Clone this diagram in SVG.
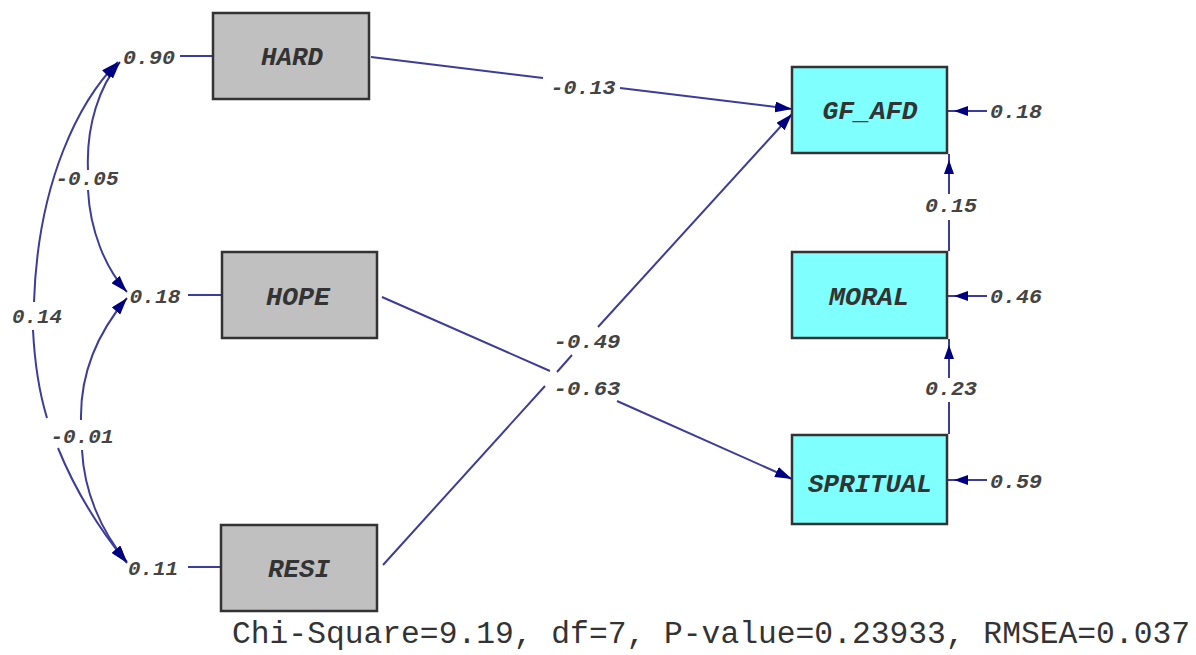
<svg xmlns="http://www.w3.org/2000/svg" width="1196" height="655" viewBox="0 0 1196 655">
<style>
.ln{fill:none;stroke:#3c3c9c;stroke-width:2}
.bx{fill:#c0c0c0;stroke:#333;stroke-width:2.5}
.cy{fill:#80ffff;stroke:#333;stroke-width:2.5}
.nl{font-family:"Liberation Mono",monospace;font-style:italic;font-weight:bold;font-size:26px;fill:#333;text-anchor:middle}
.cl{font-family:"Liberation Mono",monospace;font-style:italic;font-weight:bold;font-size:21px;fill:#444;text-anchor:middle}
.ft{font-family:"Liberation Mono",monospace;font-size:31px;fill:#333}
</style>
<defs>
<marker id="ah" viewBox="0 0 17 11" refX="17" refY="5.5" markerWidth="17" markerHeight="11" markerUnits="userSpaceOnUse" orient="auto-start-reverse"><path d="M0,0 L17,5.5 L0,11 z" fill="#000080"/></marker>
<marker id="rh" viewBox="0 0 14 10" refX="20" refY="5" markerWidth="14" markerHeight="10" markerUnits="userSpaceOnUse" orient="auto"><path d="M0,0 L14,5 L0,10 z" fill="#000080"/></marker>
</defs>
<rect width="1196" height="655" fill="#fff"/>
<g id="connectors">
<path class="ln" d="M120,62 C100,85 86,125 88,170 M88,190 C90,230 105,268 127,292" marker-start="url(#ah)" marker-end="url(#ah)"/>
<path class="ln" d="M118,62 C80,100 38,180 34,302 M33,330 C35,370 40,395 47,418 M58,448 C75,490 100,530 127,563" marker-start="url(#ah)" marker-end="url(#ah)"/>
<path class="ln" d="M127,298 C100,330 80,370 81,420 M82,450 C84,490 100,530 127,562" marker-start="url(#ah)" marker-end="url(#ah)"/>
<path class="ln" d="M180,56 L213,56"/>
<path class="ln" d="M188,295 L222,295"/>
<path class="ln" d="M188,567 L221,567"/>
<path class="ln" d="M371,57 L543,78 M620,88 L792,109" marker-end="url(#ah)"/>
<path class="ln" d="M383,565 L545,386 M557,372 L572,355 M598,327 L792,114" marker-end="url(#ah)"/>
<path class="ln" d="M382,297 L550,371 M617,401 L792,479" marker-end="url(#ah)"/>
<path class="ln" d="M987,111 L948,111" marker-end="url(#rh)"/>
<path class="ln" d="M987,296 L948,296" marker-end="url(#rh)"/>
<path class="ln" d="M987,480 L948,480" marker-end="url(#rh)"/>
<path class="ln" d="M949,251 L949,220 M949,194 L949,154" marker-end="url(#rh)"/>
<path class="ln" d="M949,434 L949,402 M949,378 L949,339" marker-end="url(#rh)"/>
</g>
<g id="HARD"><rect class="bx" x="213" y="13" width="156" height="86"/><text class="nl" x="292" y="65" textLength="62" lengthAdjust="spacingAndGlyphs">HARD</text></g>
<g id="HOPE"><rect class="bx" x="222" y="252" width="155" height="86"/><text class="nl" x="298" y="305" textLength="64" lengthAdjust="spacingAndGlyphs">HOPE</text></g>
<g id="RESI"><rect class="bx" x="221" y="525" width="156" height="86"/><text class="nl" x="299" y="577" textLength="62" lengthAdjust="spacingAndGlyphs">RESI</text></g>
<g id="GF_AFD"><rect class="cy" x="792" y="67" width="155" height="86"/><text class="nl" x="870" y="119" textLength="95" lengthAdjust="spacingAndGlyphs">GF_AFD</text></g>
<g id="MORAL"><rect class="cy" x="792" y="252" width="155" height="86"/><text class="nl" x="869" y="305" textLength="80" lengthAdjust="spacingAndGlyphs">MORAL</text></g>
<g id="SPRITUAL"><rect class="cy" x="792" y="435" width="155" height="89"/><text class="nl" x="870" y="492" textLength="124" lengthAdjust="spacingAndGlyphs">SPRITUAL</text></g>
<g id="labels">
<text class="cl" x="149" y="64" textLength="52" lengthAdjust="spacingAndGlyphs">0.90</text>
<text class="cl" x="155" y="303" textLength="51" lengthAdjust="spacingAndGlyphs">0.18</text>
<text class="cl" x="153" y="575" textLength="50" lengthAdjust="spacingAndGlyphs">0.11</text>
<text class="cl" x="87" y="185" textLength="63" lengthAdjust="spacingAndGlyphs">-0.05</text>
<text class="cl" x="37" y="323" textLength="50" lengthAdjust="spacingAndGlyphs">0.14</text>
<text class="cl" x="82" y="443" textLength="63" lengthAdjust="spacingAndGlyphs">-0.01</text>
<text class="cl" x="583" y="94" textLength="65" lengthAdjust="spacingAndGlyphs">-0.13</text>
<text class="cl" x="587" y="348" textLength="67" lengthAdjust="spacingAndGlyphs">-0.49</text>
<text class="cl" x="587" y="395" textLength="67" lengthAdjust="spacingAndGlyphs">-0.63</text>
<text class="cl" x="1016" y="118" textLength="52" lengthAdjust="spacingAndGlyphs">0.18</text>
<text class="cl" x="1016" y="303" textLength="52" lengthAdjust="spacingAndGlyphs">0.46</text>
<text class="cl" x="1016" y="488" textLength="52" lengthAdjust="spacingAndGlyphs">0.59</text>
<text class="cl" x="951" y="212" textLength="52" lengthAdjust="spacingAndGlyphs">0.15</text>
<text class="cl" x="951" y="395" textLength="52" lengthAdjust="spacingAndGlyphs">0.23</text>
</g>
<text class="ft" x="232" y="643" textLength="958" lengthAdjust="spacingAndGlyphs">Chi-Square=9.19, df=7, P-value=0.23933, RMSEA=0.037</text>
</svg>
